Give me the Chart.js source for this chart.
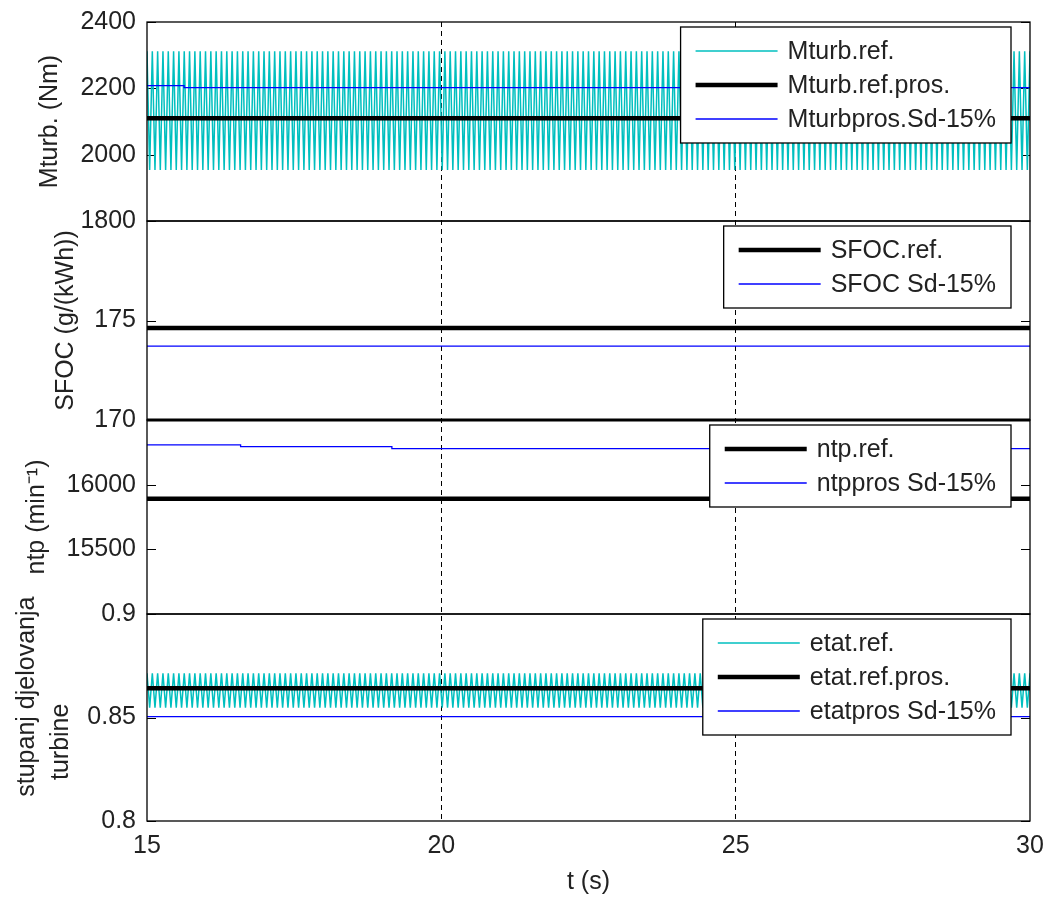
<!DOCTYPE html>
<html>
<head>
<meta charset="utf-8">
<script src="https://cdn.jsdelivr.net/npm/chart.js@4.4.1/dist/chart.umd.min.js"></script>
<style>
  html, body { margin: 0; padding: 0; background: #fff; }
  #wrap { width: 1047px; height: 897px; }
</style>
</head>
<body>
<div id="wrap"><canvas id="chart" width="1047" height="897"></canvas></div>
<script>
// ---- time axis ----
const xTicks = [15, 20, 25, 30];
const xGridAt = [20, 25];

// ---- panel 1: turbine torque (Nm) ----
// fast oscillation, read as alternating crest / trough, evenly sampled over 15..30 s
const mturbRef = [
  2312, 1954, 2312, 1954, 2312, 1954, 2312, 1954, 2312, 1954, 2312, 1954, 2312, 1954, 2312, 1954, 2312, 1954, 2312, 1954,
  2312, 1954, 2312, 1954, 2312, 1954, 2312, 1954, 2312, 1954, 2312, 1954, 2312, 1954, 2312, 1954, 2312, 1954, 2312, 1954,
  2312, 1954, 2312, 1954, 2312, 1954, 2312, 1954, 2312, 1954, 2312, 1954, 2312, 1954, 2312, 1954, 2312, 1954, 2312, 1954,
  2312, 1954, 2312, 1954, 2312, 1954, 2312, 1954, 2312, 1954, 2312, 1954, 2312, 1954, 2312, 1954, 2312, 1954, 2312, 1954,
  2312, 1954, 2312, 1954, 2312, 1954, 2312, 1954, 2312, 1954, 2312, 1954, 2312, 1954, 2312, 1954, 2312, 1954, 2312, 1954,
  2312, 1954, 2312, 1954, 2312, 1954, 2312, 1954, 2312, 1954, 2312, 1954, 2312, 1954, 2312, 1954, 2312, 1954, 2312, 1954,
  2312, 1954, 2312, 1954, 2312, 1954, 2312, 1954, 2312, 1954, 2312, 1954, 2312, 1954, 2312, 1954, 2312, 1954, 2312, 1954,
  2312, 1954, 2312, 1954, 2312, 1954, 2312, 1954, 2312, 1954, 2312, 1954, 2312, 1954, 2312, 1954, 2312, 1954, 2312, 1954,
  2312, 1954, 2312, 1954, 2312, 1954, 2312, 1954, 2312, 1954, 2312, 1954, 2312, 1954, 2312, 1954, 2312, 1954, 2312, 1954,
  2312, 1954, 2312, 1954, 2312, 1954, 2312, 1954, 2312, 1954, 2312, 1954, 2312, 1954, 2312, 1954, 2312, 1954, 2312, 1954,
  2312, 1954, 2312, 1954, 2312, 1954, 2312, 1954, 2312, 1954, 2312, 1954, 2312, 1954, 2312, 1954, 2312, 1954, 2312, 1954,
  2312, 1954, 2312, 1954, 2312, 1954, 2312, 1954, 2312, 1954, 2312, 1954, 2312, 1954, 2312, 1954, 2312, 1954, 2312, 1954,
  2312, 1954, 2312, 1954, 2312, 1954, 2312, 1954, 2312, 1954, 2312, 1954, 2312, 1954, 2312, 1954, 2312, 1954, 2312, 1954,
  2312, 1954, 2312, 1954, 2312, 1954, 2312, 1954, 2312, 1954, 2312, 1954, 2312, 1954, 2312, 1954, 2312, 1954, 2312, 1954,
  2312, 1954, 2312, 1954, 2312, 1954, 2312, 1954, 2312, 1954, 2312, 1954, 2312, 1954, 2312, 1954, 2312, 1954, 2312, 1954,
  2312, 1954, 2312, 1954, 2312, 1954, 2312, 1954, 2312, 1954, 2312, 1954, 2312, 1954, 2312, 1954, 2312, 1954, 2312, 1954,
  2312, 1954, 2312, 1954, 2312, 1954, 2312, 1954, 2312, 1954, 2312, 1954,
  2312
];
const mturbProsT = [15, 30];
const mturbPros = [2110, 2110];
const mturbSdT = [15, 15.63, 30];
const mturbSd = [2208, 2202, 2202];
const mturbTicks = [1800, 2000, 2200, 2400];

// ---- panel 2: SFOC g/(kWh) ----
const sfocRefT = [15, 30];
const sfocRef = [174.62, 174.62];
const sfocSdT = [15, 30];
const sfocSd = [173.71, 173.71];
const sfocTicks = [170, 175];

// ---- panel 3: turbocharger speed (min^-1) ----
const ntpRefT = [15, 30];
const ntpRef = [15891, 15891];
const ntpSdT = [15, 16.59, 19.16, 30];
const ntpSd = [16307, 16294, 16279, 16279];
const ntpTicks = [15500, 16000];

// ---- panel 4: turbine efficiency ----
const etatRef = [
  0.8714, 0.8547, 0.8714, 0.8547, 0.8714, 0.8547, 0.8714, 0.8547, 0.8714, 0.8547, 0.8714, 0.8547, 0.8714, 0.8547, 0.8714, 0.8547, 0.8714, 0.8547, 0.8714, 0.8547,
  0.8714, 0.8547, 0.8714, 0.8547, 0.8714, 0.8547, 0.8714, 0.8547, 0.8714, 0.8547, 0.8714, 0.8547, 0.8714, 0.8547, 0.8714, 0.8547, 0.8714, 0.8547, 0.8714, 0.8547,
  0.8714, 0.8547, 0.8714, 0.8547, 0.8714, 0.8547, 0.8714, 0.8547, 0.8714, 0.8547, 0.8714, 0.8547, 0.8714, 0.8547, 0.8714, 0.8547, 0.8714, 0.8547, 0.8714, 0.8547,
  0.8714, 0.8547, 0.8714, 0.8547, 0.8714, 0.8547, 0.8714, 0.8547, 0.8714, 0.8547, 0.8714, 0.8547, 0.8714, 0.8547, 0.8714, 0.8547, 0.8714, 0.8547, 0.8714, 0.8547,
  0.8714, 0.8547, 0.8714, 0.8547, 0.8714, 0.8547, 0.8714, 0.8547, 0.8714, 0.8547, 0.8714, 0.8547, 0.8714, 0.8547, 0.8714, 0.8547, 0.8714, 0.8547, 0.8714, 0.8547,
  0.8714, 0.8547, 0.8714, 0.8547, 0.8714, 0.8547, 0.8714, 0.8547, 0.8714, 0.8547, 0.8714, 0.8547, 0.8714, 0.8547, 0.8714, 0.8547, 0.8714, 0.8547, 0.8714, 0.8547,
  0.8714, 0.8547, 0.8714, 0.8547, 0.8714, 0.8547, 0.8714, 0.8547, 0.8714, 0.8547, 0.8714, 0.8547, 0.8714, 0.8547, 0.8714, 0.8547, 0.8714, 0.8547, 0.8714, 0.8547,
  0.8714, 0.8547, 0.8714, 0.8547, 0.8714, 0.8547, 0.8714, 0.8547, 0.8714, 0.8547, 0.8714, 0.8547, 0.8714, 0.8547, 0.8714, 0.8547, 0.8714, 0.8547, 0.8714, 0.8547,
  0.8714, 0.8547, 0.8714, 0.8547, 0.8714, 0.8547, 0.8714, 0.8547, 0.8714, 0.8547, 0.8714, 0.8547, 0.8714, 0.8547, 0.8714, 0.8547, 0.8714, 0.8547, 0.8714, 0.8547,
  0.8714, 0.8547, 0.8714, 0.8547, 0.8714, 0.8547, 0.8714, 0.8547, 0.8714, 0.8547, 0.8714, 0.8547, 0.8714, 0.8547, 0.8714, 0.8547, 0.8714, 0.8547, 0.8714, 0.8547,
  0.8714, 0.8547, 0.8714, 0.8547, 0.8714, 0.8547, 0.8714, 0.8547, 0.8714, 0.8547, 0.8714, 0.8547, 0.8714, 0.8547, 0.8714, 0.8547, 0.8714, 0.8547, 0.8714, 0.8547,
  0.8714, 0.8547, 0.8714, 0.8547, 0.8714, 0.8547, 0.8714, 0.8547, 0.8714, 0.8547, 0.8714, 0.8547, 0.8714, 0.8547, 0.8714, 0.8547, 0.8714, 0.8547, 0.8714, 0.8547,
  0.8714, 0.8547, 0.8714, 0.8547, 0.8714, 0.8547, 0.8714, 0.8547, 0.8714, 0.8547, 0.8714, 0.8547, 0.8714, 0.8547, 0.8714, 0.8547, 0.8714, 0.8547, 0.8714, 0.8547,
  0.8714, 0.8547, 0.8714, 0.8547, 0.8714, 0.8547, 0.8714, 0.8547, 0.8714, 0.8547, 0.8714, 0.8547, 0.8714, 0.8547, 0.8714, 0.8547, 0.8714, 0.8547, 0.8714, 0.8547,
  0.8714, 0.8547, 0.8714, 0.8547, 0.8714, 0.8547, 0.8714, 0.8547, 0.8714, 0.8547, 0.8714, 0.8547, 0.8714, 0.8547, 0.8714, 0.8547, 0.8714, 0.8547, 0.8714, 0.8547,
  0.8714, 0.8547, 0.8714, 0.8547, 0.8714, 0.8547, 0.8714, 0.8547, 0.8714, 0.8547, 0.8714, 0.8547, 0.8714, 0.8547, 0.8714, 0.8547, 0.8714, 0.8547, 0.8714, 0.8547,
  0.8714, 0.8547, 0.8714, 0.8547, 0.8714, 0.8547, 0.8714, 0.8547, 0.8714, 0.8547, 0.8714, 0.8547,
  0.8714
];
const etatProsT = [15, 30];
const etatPros = [0.8641, 0.8641];
const etatSdT = [15, 30];
const etatSd = [0.8504, 0.8504];
const etatTicks = [0.8, 0.85, 0.9];

// ---- styling ----
const CYAN = '#00bfbf';
const BLUE = '#0000ff';
const BLACK = '#000000';
const TEXT = '#222222';
const FAMILY = '"Liberation Sans", Arial, sans-serif';
const tickFont = { family: FAMILY, size: 25, lineHeight: 1.2 };
const titleFont = { family: FAMILY, size: 25, lineHeight: 1.36 };
const AXIS_W = 147;

const pts = (xs, ys) => ys.map((y, i) => ({ x: xs[i], y }));
// evenly spaced samples across the 15..30 s window
const sampled = ys => ys.map((y, i) => ({ x: 15 + 15 * i / (ys.length - 1), y }));

function line(label, data, axis, color, width, order, extra) {
  return Object.assign({
    label, data, yAxisID: axis, borderColor: color, backgroundColor: color,
    borderWidth: width, pointRadius: 0, fill: false, tension: 0, order,
    borderCapStyle: 'butt'
  }, extra || {});
}

const datasets = [
  line('Mturb.ref.', sampled(mturbRef), 'yM', CYAN, 1.5, 3),
  line('Mturb.ref.pros.', pts(mturbProsT, mturbPros), 'yM', BLACK, 4.5, 2),
  line('Mturbpros.Sd-15%', pts(mturbSdT, mturbSd), 'yM', BLUE, 1.3, 1, { stepped: true }),
  line('SFOC.ref.', pts(sfocRefT, sfocRef), 'ySfoc', BLACK, 4.5, 2),
  line('SFOC Sd-15%', pts(sfocSdT, sfocSd), 'ySfoc', BLUE, 1.3, 1),
  line('ntp.ref.', pts(ntpRefT, ntpRef), 'yNtp', BLACK, 4.5, 2),
  line('ntppros Sd-15%', pts(ntpSdT, ntpSd), 'yNtp', BLUE, 1.3, 1, { stepped: true }),
  line('etat.ref.', sampled(etatRef), 'yEta', CYAN, 1.5, 3),
  line('etat.ref.pros.', pts(etatProsT, etatPros), 'yEta', BLACK, 4.5, 2),
  line('etatpros Sd-15%', pts(etatSdT, etatSd), 'yEta', BLUE, 1.3, 1)
];

function panelAxis(min, max, weight, tickVals, title, titlePad) {
  return {
    type: 'linear', position: 'left', stack: 'panels', stackWeight: weight,
    min, max,
    afterBuildTicks: s => { s.ticks = tickVals.map(v => ({ value: v })); },
    afterFit: s => { s.width = AXIS_W; s.paddingTop = 0; s.paddingBottom = 0; },
    grid: { display: false, drawTicks: false },
    border: { display: false },
    ticks: { color: TEXT, font: tickFont, padding: 11, callback: v => String(v) },
    title: { display: true, text: title, color: TEXT, font: titleFont, padding: { top: titlePad, bottom: 0 } }
  };
}

// box round every panel plus MATLAB-style inward ticks on both sides
const panelFrame = {
  id: 'panelFrame',
  beforeDatasetsDraw(chart, args, opts) {
    const { ctx, chartArea: { left, right } } = chart;
    ctx.save();
    ctx.strokeStyle = BLACK;
    ctx.lineWidth = 1;
    opts.axes.forEach(id => {
      const s = chart.scales[id];
      s.ticks.forEach(t => {
        const y = Math.round(s.getPixelForValue(t.value)) + 0.5;
        ctx.beginPath();
        ctx.moveTo(left, y); ctx.lineTo(left + 9, y);
        ctx.moveTo(right, y); ctx.lineTo(right - 9, y);
        ctx.stroke();
      });
    });
    ctx.restore();
  },
  afterDatasetsDraw(chart, args, opts) {
    const { ctx, chartArea: { left, right } } = chart;
    ctx.save();
    ctx.strokeStyle = BLACK;
    opts.axes.forEach(id => {
      const s = chart.scales[id];
      ctx.lineWidth = 1.3;
      ctx.strokeRect(left, s.top, right - left, s.bottom - s.top);
      if (opts.heavyTop.includes(id)) {
        ctx.lineWidth = 3;
        ctx.beginPath();
        ctx.moveTo(left, s.top); ctx.lineTo(right, s.top);
        ctx.stroke();
      }
    });
    ctx.restore();
  }
};

// one boxed legend in the top-right corner of each panel
const panelLegends = {
  id: 'panelLegends',
  afterDraw(chart, args, opts) {
    const { ctx, chartArea } = chart;
    ctx.save();
    ctx.font = '25px ' + FAMILY;
    opts.axes.forEach(id => {
      const s = chart.scales[id];
      const sets = chart.data.datasets.filter(d => d.yAxisID === id);
      const maxW = Math.max(...sets.map(d => ctx.measureText(d.label).width));
      const rowH = 34;
      const w = 15 + 82 + 10 + maxW + 15;
      const h = sets.length * rowH + 14;
      const right = chartArea.right - 19;
      const left = right - w;
      const top = s.top + 5;
      ctx.fillStyle = '#ffffff';
      ctx.fillRect(left, top, w, h);
      ctx.strokeStyle = BLACK;
      ctx.lineWidth = 1.3;
      ctx.strokeRect(left, top, w, h);
      sets.forEach((d, i) => {
        const cy = top + 7 + rowH / 2 + i * rowH;
        ctx.strokeStyle = d.borderColor;
        ctx.lineWidth = d.borderWidth === 4.5 ? 4.5 : 1.6;
        ctx.beginPath();
        ctx.moveTo(left + 15, cy);
        ctx.lineTo(left + 97, cy);
        ctx.stroke();
        ctx.fillStyle = TEXT;
        ctx.textAlign = 'left';
        ctx.textBaseline = 'middle';
        ctx.fillText(d.label, left + 107, cy + 1);
      });
    });
    ctx.restore();
  }
};

new Chart(document.getElementById('chart'), {
  type: 'line',
  data: { datasets },
  plugins: [panelFrame, panelLegends],
  options: {
    responsive: false,
    animation: false,
    events: [],
    layout: { padding: { left: 0, right: 17, top: 22, bottom: 0 } },
    scales: {
      x: {
        type: 'linear', position: 'bottom', min: 15, max: 30, z: 1,
        afterBuildTicks: s => { s.ticks = xTicks.map(v => ({ value: v })); },
        afterFit: s => { s.height = 76; s.paddingLeft = 0; s.paddingRight = 0; },
        grid: {
          drawTicks: false, lineWidth: 1,
          color: c => (c.tick && xGridAt.includes(c.tick.value)) ? BLACK : 'rgba(0,0,0,0)'
        },
        border: { display: false, dash: [5, 4] },
        ticks: { color: TEXT, font: tickFont, padding: 10, maxRotation: 0, callback: v => String(v) },
        title: { display: true, text: 't (s)', color: TEXT, font: tickFont, padding: { top: 0, bottom: 0 } }
      },
      // stacked panels: the last one defined sits on top
      // (the spaces nudge the two title lines apart along the axis, as in the original)
      yEta: panelAxis(0.8, 0.9, 207, etatTicks, ['      stupanj djelovanja', 'turbine       '], 10),
      yNtp: panelAxis(15000, 16500, 194, ntpTicks, 'ntp (min\u207B\u00B9)', 20),
      ySfoc: panelAxis(170, 180, 199, sfocTicks, 'SFOC (g/(kWh))', 49),
      yM: panelAxis(1800, 2400, 199, mturbTicks, 'Mturb. (Nm)', 33)
    },
    plugins: {
      legend: { display: false },
      tooltip: { enabled: false },
      panelFrame: { axes: ['yM', 'ySfoc', 'yNtp', 'yEta'], heavyTop: ['yNtp'] },
      panelLegends: { axes: ['yM', 'ySfoc', 'yNtp', 'yEta'] }
    }
  }
});
</script>
</body>
</html>
